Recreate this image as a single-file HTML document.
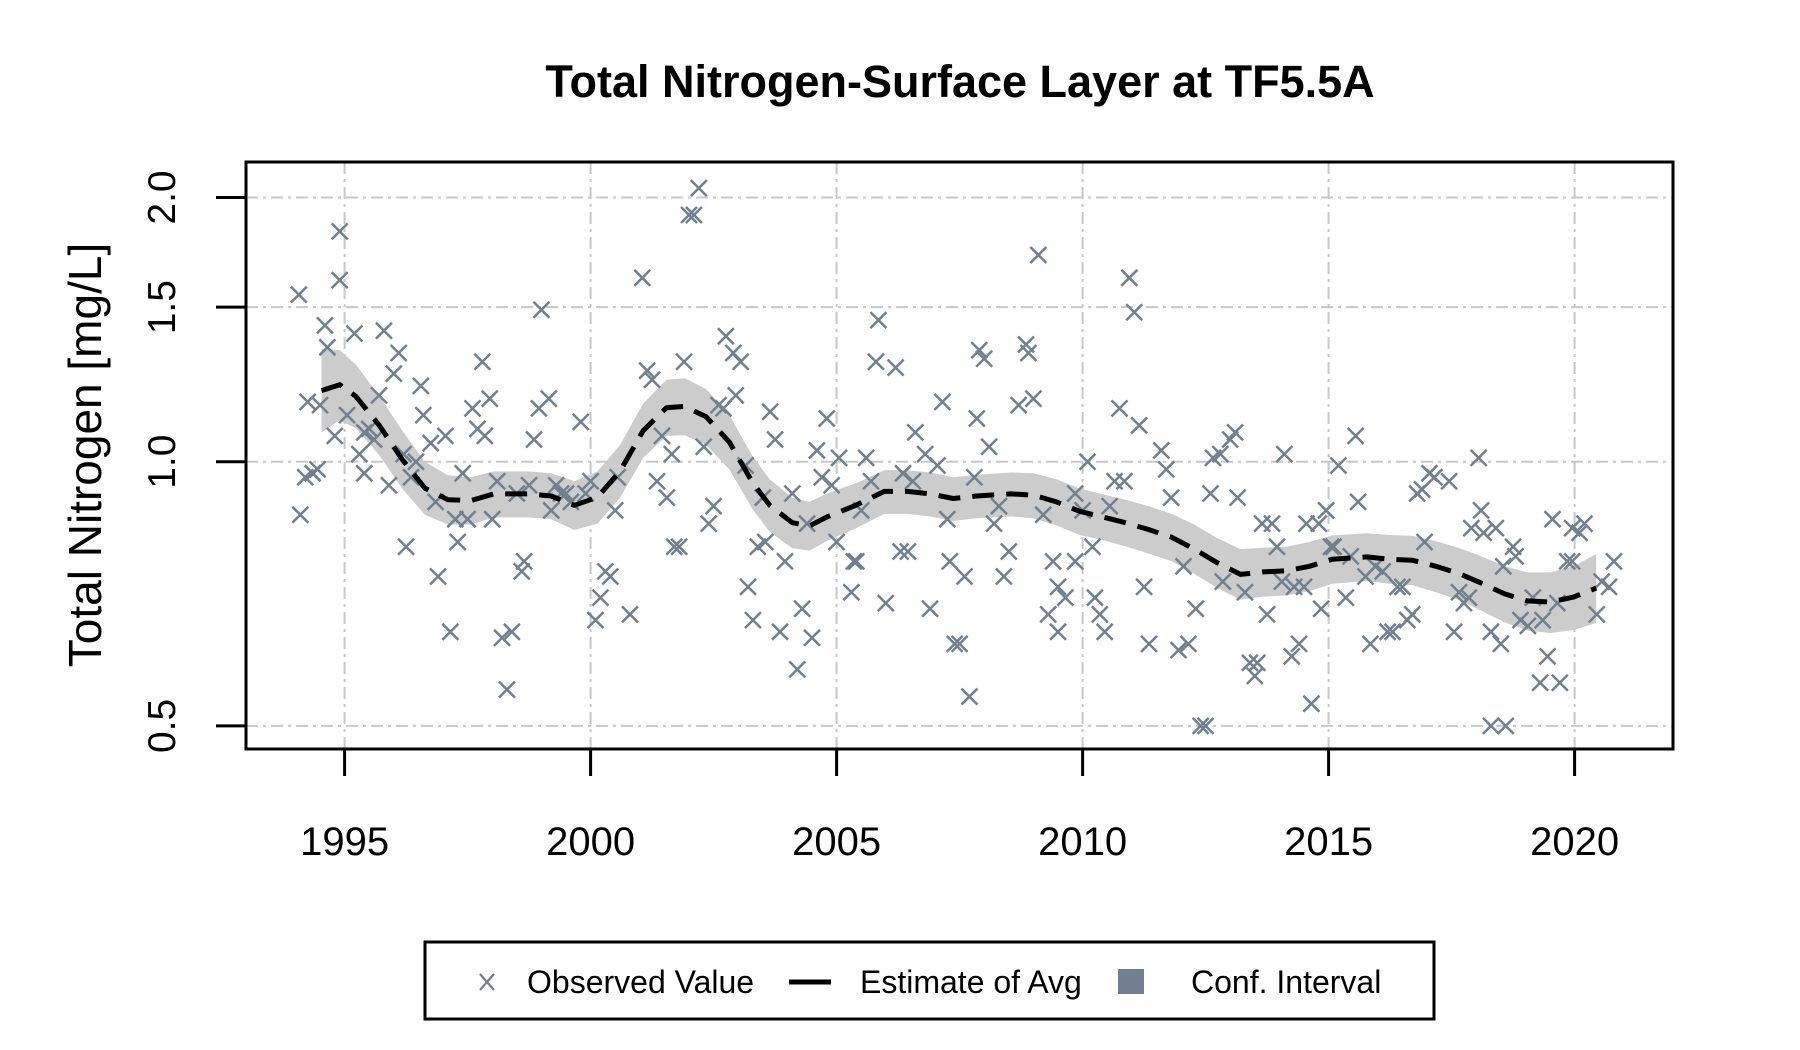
<!DOCTYPE html>
<html>
<head>
<meta charset="utf-8">
<style>
  html, body { margin: 0; padding: 0; background: #fff; }
  svg { display: block; }
  text { font-family: "Liberation Sans", Arial, sans-serif; }
</style>
</head>
<body>
<svg id="chart" width="1800" height="1050" viewBox="0 0 1800 1050" xmlns="http://www.w3.org/2000/svg">
  <rect x="0" y="0" width="1800" height="1050" fill="#ffffff"/>
  <text x="960" y="97" text-anchor="middle" font-size="45" font-weight="bold">Total Nitrogen-Surface Layer at TF5.5A</text>
  <g id="grid"></g>
  <g id="band"></g>
  <g id="points"></g>
  <g id="line"></g>
  <rect x="246" y="162" width="1427" height="587" fill="none" stroke="#000" stroke-width="3"/>
  <g id="xaxis"></g>
  <g id="yaxis"></g>
  <text transform="translate(101,455) rotate(-90)" text-anchor="middle" font-size="46">Total Nitrogen [mg/L]</text>
  <g>
    <rect x="425" y="942" width="1009" height="77" fill="#fff" stroke="#000" stroke-width="3"/>
    <g>
      <path d="M480,974 L494,990 M494,974 L480,990" stroke="#708090" stroke-width="2.2"/>
      <text x="527" y="993" font-size="32">Observed Value</text>
    </g>
    <g>
      <line x1="789" y1="982" x2="831" y2="982" stroke="#000" stroke-width="5"/>
      <text x="860" y="993" font-size="32">Estimate of Avg</text>
    </g>
    <g>
      <rect x="1118" y="969" width="26" height="25" fill="#708090"/>
      <text x="1191" y="993" font-size="32">Conf. Interval</text>
    </g>
  </g>
</svg>
<script>
const obsYears = [1994.07,1994.1,1994.2,1994.25,1994.35,1994.45,1994.5,1994.6,1994.65,1994.8,1994.9,1994.9,1995.05,1995.2,1995.3,1995.4,1995.4,1995.5,1995.6,1995.7,1995.8,1995.9,1996.0,1996.1,1996.2,1996.25,1996.35,1996.45,1996.55,1996.6,1996.75,1996.85,1996.9,1997.05,1997.15,1997.25,1997.3,1997.4,1997.5,1997.6,1997.7,1997.8,1997.85,1997.95,1998.0,1998.1,1998.2,1998.3,1998.4,1998.5,1998.6,1998.65,1998.75,1998.85,1998.95,1999.0,1999.15,1999.2,1999.3,1999.4,1999.5,1999.6,1999.8,1999.9,2000.0,2000.1,2000.2,2000.3,2000.4,2000.5,2000.55,2000.8,2001.05,2001.15,2001.25,2001.35,2001.45,2001.55,2001.65,2001.7,2001.8,2001.9,2002.0,2002.1,2002.2,2002.3,2002.4,2002.5,2002.6,2002.7,2002.75,2002.9,2002.95,2003.05,2003.15,2003.2,2003.3,2003.4,2003.5,2003.55,2003.65,2003.75,2003.85,2003.95,2004.1,2004.2,2004.3,2004.4,2004.5,2004.6,2004.7,2004.8,2004.9,2005.0,2005.05,2005.3,2005.35,2005.4,2005.5,2005.6,2005.7,2005.8,2005.85,2006.0,2006.2,2006.3,2006.35,2006.45,2006.55,2006.6,2006.8,2006.9,2007.05,2007.15,2007.25,2007.3,2007.4,2007.5,2007.6,2007.7,2007.8,2007.85,2007.9,2008.0,2008.1,2008.2,2008.3,2008.4,2008.5,2008.7,2008.85,2008.9,2009.0,2009.1,2009.2,2009.3,2009.4,2009.5,2009.5,2009.65,2009.85,2009.85,2010.0,2010.1,2010.2,2010.25,2010.35,2010.45,2010.55,2010.65,2010.75,2010.85,2010.95,2011.05,2011.15,2011.25,2011.35,2011.6,2011.7,2011.8,2011.95,2012.05,2012.15,2012.3,2012.4,2012.5,2012.6,2012.65,2012.8,2012.85,2013.0,2013.1,2013.15,2013.3,2013.4,2013.5,2013.55,2013.65,2013.75,2013.85,2013.95,2014.05,2014.1,2014.25,2014.3,2014.4,2014.5,2014.55,2014.65,2014.8,2014.85,2014.95,2015.05,2015.1,2015.2,2015.35,2015.45,2015.55,2015.6,2015.75,2015.85,2015.95,2016.1,2016.2,2016.3,2016.4,2016.5,2016.6,2016.7,2016.8,2016.9,2016.95,2017.05,2017.15,2017.45,2017.55,2017.65,2017.75,2017.85,2017.9,2018.05,2018.1,2018.15,2018.3,2018.3,2018.4,2018.5,2018.55,2018.6,2018.75,2018.8,2018.9,2019.05,2019.15,2019.3,2019.35,2019.45,2019.55,2019.65,2019.7,2019.85,2019.95,2019.95,2020.1,2020.2,2020.45,2020.55,2020.7,2020.8];
const obsValues = [1.55,0.87,0.96,1.17,0.97,0.98,1.16,1.43,1.35,1.07,1.83,1.61,1.13,1.40,1.02,0.97,1.08,1.09,1.06,1.19,1.41,0.94,1.26,1.33,1.02,0.80,0.96,1.00,1.22,1.13,1.05,0.90,0.74,1.07,0.64,0.86,0.81,0.97,0.86,1.15,1.09,1.30,1.07,1.18,0.86,0.95,0.63,0.55,0.64,0.92,0.75,0.77,0.94,1.06,1.15,1.49,1.18,0.88,0.94,0.92,0.92,0.90,1.11,0.92,0.95,0.66,0.70,0.75,0.74,0.88,0.96,0.67,1.62,1.27,1.24,0.95,1.07,0.91,1.02,0.80,0.80,1.30,1.91,1.91,2.05,1.04,0.85,0.89,1.16,1.15,1.39,1.33,1.19,1.30,0.99,0.72,0.66,0.80,0.91,0.81,1.14,1.06,0.64,0.77,0.92,0.58,0.68,0.85,0.63,1.03,0.96,1.12,0.94,0.81,1.01,0.71,0.77,0.77,0.88,1.01,0.95,1.30,1.45,0.69,1.28,0.79,0.97,0.79,0.95,1.08,1.02,0.68,0.99,1.17,0.86,0.77,0.62,0.62,0.74,0.54,0.96,1.12,1.34,1.31,1.04,0.85,0.89,0.74,0.79,1.16,1.36,1.33,1.18,1.72,0.87,0.67,0.77,0.64,0.72,0.70,0.77,0.92,0.88,1.00,0.80,0.70,0.67,0.64,0.89,0.95,1.15,0.95,1.62,1.48,1.10,0.72,0.62,1.03,0.98,0.91,0.61,0.76,0.62,0.68,0.50,0.50,0.92,1.01,1.02,0.73,1.06,1.08,0.91,0.71,0.59,0.57,0.59,0.85,0.67,0.85,0.80,0.73,1.02,0.60,0.72,0.62,0.72,0.85,0.53,0.85,0.68,0.88,0.80,0.80,0.99,0.70,0.78,1.07,0.90,0.74,0.62,0.76,0.75,0.64,0.64,0.72,0.72,0.66,0.67,0.92,0.93,0.81,0.97,0.96,0.95,0.64,0.71,0.69,0.70,0.84,1.01,0.88,0.83,0.50,0.64,0.84,0.62,0.76,0.50,0.80,0.78,0.66,0.65,0.70,0.56,0.66,0.60,0.86,0.69,0.56,0.77,0.84,0.77,0.83,0.85,0.67,0.73,0.72,0.77];

const estYears = [1994.53,1994.9,1995.23,1995.7,1996.17,1996.63,1997.1,1997.57,1998.03,1998.73,1999.2,1999.67,2000.14,2000.6,2001.07,2001.54,2001.91,2002.35,2002.82,2003.29,2003.64,2004.1,2004.45,2004.8,2005.39,2005.97,2006.44,2006.9,2007.37,2007.84,2008.54,2009.0,2009.47,2009.94,2010.41,2010.87,2011.34,2011.81,2012.27,2012.74,2013.21,2013.67,2014.14,2014.61,2015.07,2015.78,2016.24,2016.71,2017.18,2017.64,2018.11,2018.58,2019.04,2019.51,2019.98,2020.44];
const estValues = [1.205,1.224,1.187,1.101,1.006,0.933,0.905,0.903,0.919,0.919,0.914,0.892,0.911,0.976,1.085,1.152,1.156,1.125,1.053,0.947,0.892,0.852,0.845,0.865,0.892,0.925,0.925,0.919,0.908,0.914,0.919,0.916,0.900,0.878,0.865,0.852,0.837,0.820,0.795,0.767,0.744,0.749,0.751,0.760,0.774,0.779,0.774,0.772,0.760,0.746,0.727,0.707,0.694,0.692,0.701,0.718];
const ciUpper = [1.345,1.340,1.290,1.190,1.085,1.000,0.965,0.960,0.975,0.975,0.970,0.950,0.975,1.045,1.165,1.240,1.245,1.210,1.130,1.015,0.955,0.910,0.900,0.920,0.945,0.978,0.978,0.972,0.960,0.966,0.972,0.970,0.955,0.932,0.918,0.905,0.890,0.872,0.848,0.818,0.795,0.798,0.800,0.810,0.824,0.829,0.825,0.823,0.812,0.798,0.780,0.760,0.748,0.748,0.760,0.785];
const ciLower = [1.080,1.115,1.092,1.018,0.932,0.870,0.848,0.848,0.864,0.864,0.860,0.836,0.850,0.910,1.010,1.070,1.072,1.045,0.980,0.883,0.832,0.797,0.792,0.812,0.840,0.872,0.872,0.866,0.856,0.862,0.866,0.862,0.846,0.825,0.814,0.801,0.786,0.770,0.745,0.718,0.696,0.702,0.704,0.712,0.726,0.731,0.726,0.723,0.710,0.696,0.676,0.656,0.642,0.638,0.643,0.655];

const xTicks = [1995, 2000, 2005, 2010, 2015, 2020];
const xTickLabels = ["1995", "2000", "2005", "2010", "2015", "2020"];
const yTicks = [0.5, 1.0, 1.5, 2.0];
const yTickLabels = ["0.5", "1.0", "1.5", "2.0"];

const NS = "http://www.w3.org/2000/svg";
const X0 = 344.6, XPERYEAR = 49.2;
const Y1 = 461.7, YPERLOG2 = 264.2;
const BL = 246, BR = 1673, BT = 162, BB = 749;
function xScale(yr) { return X0 + (yr - 1995) * XPERYEAR; }
function yScale(v) { return Y1 - Math.log2(v) * YPERLOG2; }
function mk(tag, attrs) {
  const el = document.createElementNS(NS, tag);
  for (const k in attrs) el.setAttribute(k, attrs[k]);
  return el;
}

const grid = document.getElementById('grid');
xTicks.forEach(function (t) {
  const x = xScale(t);
  const l = mk('line', {x1: x, y1: BT, x2: x, y2: BB, stroke: '#c8c8c8', 'stroke-width': 2, 'stroke-dasharray': '12 5 3 5'});
  
  
  grid.appendChild(l);
});
yTicks.forEach(function (t) {
  const y = yScale(t);
  const l = mk('line', {x1: BL, y1: y, x2: BR, y2: y, stroke: '#c8c8c8', 'stroke-width': 2, 'stroke-dasharray': '12 5 3 5'});
  
  
  grid.appendChild(l);
});

let bd = '';
for (let i = 0; i < estYears.length; i++) bd += (i ? 'L' : 'M') + xScale(estYears[i]).toFixed(1) + ',' + yScale(ciUpper[i]).toFixed(1);
for (let i = estYears.length - 1; i >= 0; i--) bd += 'L' + xScale(estYears[i]).toFixed(1) + ',' + yScale(ciLower[i]).toFixed(1);
bd += 'Z';
const band = mk('path', {d: bd, fill: '#cccccc', stroke: 'none'});


document.getElementById('band').appendChild(band);

const pts = document.getElementById('points');
for (let i = 0; i < obsYears.length; i++) {
  const x = xScale(obsYears[i]), y = yScale(obsValues[i]), s = 8;
  const p = mk('path', {d: 'M' + (x - s) + ',' + (y - s) + 'L' + (x + s) + ',' + (y + s) + 'M' + (x + s) + ',' + (y - s) + 'L' + (x - s) + ',' + (y + s), stroke: '#708090', 'stroke-width': 2.5, fill: 'none'});
  
  
  pts.appendChild(p);
}

let ld = '';
for (let i = 0; i < estYears.length; i++) ld += (i ? 'L' : 'M') + xScale(estYears[i]).toFixed(1) + ',' + yScale(estValues[i]).toFixed(1);
const line = mk('path', {d: ld, fill: 'none', stroke: '#000', 'stroke-width': 5, 'stroke-dasharray': '22 12', 'stroke-linejoin': 'round'});


document.getElementById('line').appendChild(line);

const xa = document.getElementById('xaxis');
xTicks.forEach(function (t, i) {
  const x = xScale(t);
  const tk = mk('line', {x1: x, y1: BB, x2: x, y2: BB + 27, stroke: '#000', 'stroke-width': 3});
  
  
  xa.appendChild(tk);
  const tx = mk('text', {x: x, y: 855, 'text-anchor': 'middle', 'font-size': 40});
  tx.textContent = xTickLabels[i];
  
  
  xa.appendChild(tx);
});

const ya = document.getElementById('yaxis');
yTicks.forEach(function (t, i) {
  const y = yScale(t);
  const tk = mk('line', {x1: BL - 30, y1: y, x2: BL, y2: y, stroke: '#000', 'stroke-width': 3});
  
  
  ya.appendChild(tk);
  const tx = mk('text', {transform: 'translate(175,' + y + ') rotate(-90)', 'text-anchor': 'middle', 'font-size': 39});
  tx.textContent = yTickLabels[i];
  
  
  ya.appendChild(tx);
});
</script>
</body>
</html>
